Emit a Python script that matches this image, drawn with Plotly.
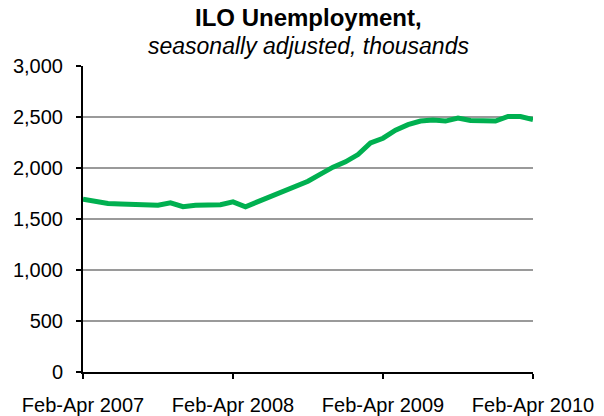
import plotly.graph_objects as go

periods = [
    "Feb-Apr 2007", "Mar-May 2007", "Apr-Jun 2007", "May-Jul 2007", "Jun-Aug 2007",
    "Jul-Sep 2007", "Aug-Oct 2007", "Sep-Nov 2007", "Oct-Dec 2007", "Nov-Jan 2008",
    "Dec-Feb 2008", "Jan-Mar 2008", "Feb-Apr 2008", "Mar-May 2008", "Apr-Jun 2008",
    "May-Jul 2008", "Jun-Aug 2008", "Jul-Sep 2008", "Aug-Oct 2008", "Sep-Nov 2008",
    "Oct-Dec 2008", "Nov-Jan 2009", "Dec-Feb 2009", "Jan-Mar 2009", "Feb-Apr 2009",
    "Mar-May 2009", "Apr-Jun 2009", "May-Jul 2009", "Jun-Aug 2009", "Jul-Sep 2009",
    "Aug-Oct 2009", "Sep-Nov 2009", "Oct-Dec 2009", "Nov-Jan 2010", "Dec-Feb 2010",
    "Jan-Mar 2010", "Feb-Apr 2010",
]
unemployment = [
    1695, 1668, 1652, 1647, 1647, 1647, 1635, 1658, 1620, 1635,
    1638, 1640, 1668, 1620, 1670, 1720, 1770, 1820, 1870, 1940,
    2008, 2060, 2132, 2245, 2292, 2370, 2425, 2460, 2470, 2460,
    2490, 2465, 2460, 2460, 2505, 2505, 2475,
]
x_ticks = ["Feb-Apr 2007", "Feb-Apr 2008", "Feb-Apr 2009", "Feb-Apr 2010"]
y_ticks = [0, 500, 1000, 1500, 2000, 2500, 3000]
y_tick_text = ["0", "500", "1,000", "1,500", "2,000", "2,500", "3,000"]

FONT = "Liberation Sans, Arial, sans-serif"

fig = go.Figure()
fig.add_trace(go.Scatter(
    x=periods, y=unemployment, mode="lines",
    line=dict(color="#00B050", width=5),
    hoverinfo="x+y", showlegend=False,
))

fig.update_layout(
    width=604, height=416,
    margin=dict(l=83, r=71, t=66, b=44),
    paper_bgcolor="white", plot_bgcolor="white",
    font=dict(family=FONT, color="black", size=20),
    annotations=[
        dict(text="<b>ILO Unemployment,</b>", xref="paper", yref="paper",
             x=0.5, y=1, yshift=49, xanchor="center", yanchor="middle",
             showarrow=False, font=dict(size=24, family=FONT, color="black")),
        dict(text="<i>seasonally adjusted, thousands</i>", xref="paper", yref="paper",
             x=0.5, y=1, yshift=20, xanchor="center", yanchor="middle",
             showarrow=False, font=dict(size=23, family=FONT, color="black")),
    ],
)
fig.update_xaxes(
    type="category", range=[0, 36], tickmode="array", tickvals=x_ticks, ticktext=x_ticks,
    showgrid=False, showline=True, linecolor="black", linewidth=2,
    ticks="outside", ticklen=5, tickwidth=1.5, tickcolor="black",
    tickangle=0, ticklabelstandoff=9, tickfont=dict(size=20), automargin=False,
)
fig.update_yaxes(
    range=[0, 3000], tickmode="array", tickvals=y_ticks, ticktext=y_tick_text,
    showgrid=True, gridcolor="#9a9a9a", gridwidth=1.5,
    showline=True, linecolor="black", linewidth=2, zeroline=False,
    ticks="outside", ticklen=5, tickwidth=1.5, tickcolor="black",
    ticklabelstandoff=9, tickfont=dict(size=20), automargin=False,
)

fig.write_html(
    "out.html",
    config={"displayModeBar": False},
    post_script="document.body.style.margin='0';document.body.style.overflow='hidden';",
)
